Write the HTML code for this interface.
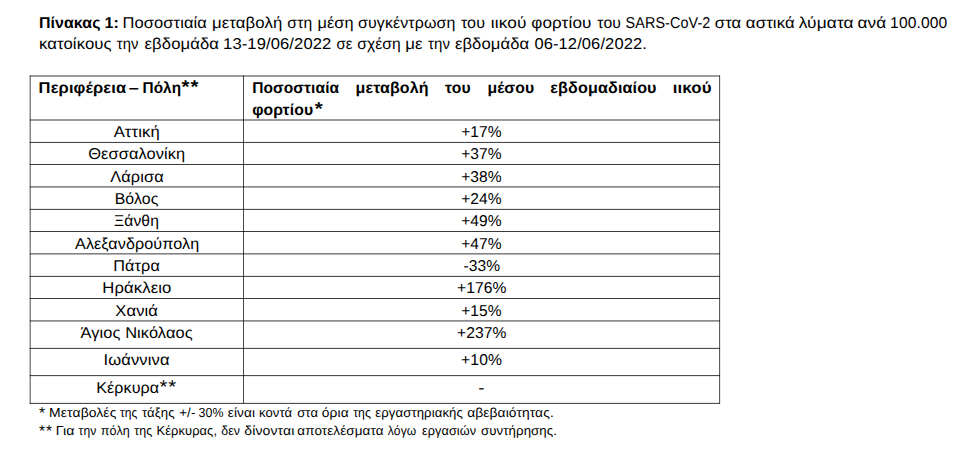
<!DOCTYPE html>
<html lang="el"><head><meta charset="utf-8"><title>Πίνακας 1</title>
<style>
html,body{margin:0;padding:0;background:#fff}
body{width:960px;height:451px;position:relative;overflow:hidden;font-family:"Liberation Sans",sans-serif;color:#000;text-rendering:geometricPrecision}
p{margin:0}
table{border-collapse:collapse;border-spacing:0;border:0}
th,td{padding:0;border:0;font-weight:normal}
.rules{position:absolute;left:0;top:0}
/* one absolutely placed element per text line; words are inline-blocks whose sub-pixel offset and width fit live in the transform */
.ln{display:block;position:absolute;left:0;white-space:nowrap;font-size:0;line-height:20px;height:20px}
.w{display:inline-block;width:1px;vertical-align:baseline;white-space:nowrap;font-size:15.75px;line-height:20px;font-weight:normal;transform-origin:0 0}
.f .w{font-size:13px}
.w.b{font-weight:bold}
</style></head><body>
<svg class="rules" width="960" height="451" viewBox="0 0 960 451" fill="#000" aria-hidden="true"><rect x="29.76" y="75.61" width="690.33" height="0.78"/><rect x="29.76" y="119.61" width="690.33" height="0.78"/><rect x="29.76" y="141.94" width="690.33" height="0.78"/><rect x="29.76" y="164.21" width="690.33" height="0.78"/><rect x="29.76" y="186.56" width="690.33" height="0.78"/><rect x="29.76" y="208.91" width="690.33" height="0.78"/><rect x="29.76" y="231.21" width="690.33" height="0.78"/><rect x="29.76" y="253.51" width="690.33" height="0.78"/><rect x="29.76" y="275.91" width="690.33" height="0.78"/><rect x="29.76" y="298.21" width="690.33" height="0.78"/><rect x="29.76" y="320.56" width="690.33" height="0.78"/><rect x="29.76" y="347.91" width="690.33" height="0.78"/><rect x="29.76" y="375.31" width="690.33" height="0.78"/><rect x="29.76" y="402.91" width="690.33" height="0.78"/><rect x="29.76" y="75.61" width="0.72" height="328.08"/><rect x="243.0" y="75.61" width="0.72" height="328.08"/><rect x="719.37" y="75.61" width="0.72" height="328.08"/></svg>
<p class="cap">
<span class="ln" style="top:14px"><span class="w b" style="margin-left:38px;letter-spacing:0.1px;transform:translateX(0.88px) scaleX(1.0104)">Πίνακας</span> <span class="w b" style="margin-left:65px;letter-spacing:0.1px;transform:translateX(0.55px) scaleX(1.0219)">1:</span> <span class="w" style="margin-left:17px;letter-spacing:0.1px;transform:translateX(0.5px) scaleX(1.046)">Ποσοστιαία</span> <span class="w" style="margin-left:88px;letter-spacing:0.1px;transform:translateX(0.97px) scaleX(1.0634)">μεταβολή</span> <span class="w" style="margin-left:75px;letter-spacing:0.1px;transform:translateX(0.37px) scaleX(0.9942)">στη</span> <span class="w" style="margin-left:29px;letter-spacing:0.1px;transform:translateX(0.48px) scaleX(1.0353)">μέση</span> <span class="w" style="margin-left:40px;letter-spacing:0.1px;transform:translateX(0.08px) scaleX(1.0137)">συγκέντρωση</span> <span class="w" style="margin-left:101px;letter-spacing:0.1px;transform:translateX(0.88px) scaleX(1.0228)">του</span> <span class="w" style="margin-left:29px;letter-spacing:0.1px;transform:translateX(0.73px) scaleX(1.0971)">ιικού</span> <span class="w" style="margin-left:40px;letter-spacing:0.1px;transform:translateX(0.23px) scaleX(1.0849)">φορτίου</span> <span class="w" style="margin-left:65px;letter-spacing:0.1px;transform:translateX(0.33px) scaleX(0.9983)">του</span> <span class="w" style="margin-left:27px;letter-spacing:0.1px;transform:translateX(0.62px) scaleX(0.9118)">SARS-CoV-2</span> <span class="w" style="margin-left:88px;letter-spacing:0.1px;transform:translateX(0.81px) scaleX(1.0519)">στα</span> <span class="w" style="margin-left:30px;letter-spacing:0.1px;transform:translateX(0.87px) scaleX(1.0648)">αστικά</span> <span class="w" style="margin-left:52px;letter-spacing:0.1px;transform:translateX(0.73px) scaleX(1.0998)">λύματα</span> <span class="w" style="margin-left:58px;letter-spacing:0.1px;transform:translateX(0.53px) scaleX(1.0907)">ανά</span> <span class="w" style="margin-left:32px;letter-spacing:0.1px;transform:translateX(0.12px) scaleX(0.9923)">100.000</span></span>
<span class="ln" style="top:35px"><span class="w" style="margin-left:38px;letter-spacing:0.1px;transform:translateX(0.88px) scaleX(1.0628)">κατοίκους</span> <span class="w" style="margin-left:77px;letter-spacing:0.1px;transform:translateX(0.77px) scaleX(0.94)">την</span> <span class="w" style="margin-left:27px;letter-spacing:0.1px;transform:translateX(0.53px) scaleX(1.0586)">εβδομάδα</span> <span class="w" style="margin-left:78px;letter-spacing:0.1px;transform:translateX(0.05px) scaleX(1.0528)">13-19/06/2022</span> <span class="w" style="margin-left:112px;letter-spacing:0.1px;transform:translateX(0.4px) scaleX(0.9403)">σε</span> <span class="w" style="margin-left:20px;letter-spacing:0.1px;transform:translateX(0.13px) scaleX(0.9928)">σχέση</span> <span class="w" style="margin-left:47px;letter-spacing:0.1px;transform:translateX(0.18px) scaleX(1.069)">με</span> <span class="w" style="margin-left:21px;letter-spacing:0.1px;transform:translateX(0.99px) scaleX(0.9518)">την</span> <span class="w" style="margin-left:26px;letter-spacing:0.1px;transform:translateX(0.9px) scaleX(1.0566)">εβδομάδα</span> <span class="w" style="margin-left:79px;letter-spacing:0.1px;transform:translateX(0.4px) scaleX(1.048)">06-12/06/2022.</span></span>
</p>
<table>
<thead><tr><th><span class="ln" style="top:79px"><span class="w b" style="margin-left:38px;letter-spacing:0.1px;transform:translateX(0.62px) scaleX(1.0472)">Περιφέρεια</span> <span class="w b" style="margin-left:89px;transform:translateX(0.87px) scaleX(1.1397)">–</span> <span class="w b" style="margin-left:13px;letter-spacing:0.1px;transform:translateX(0.47px) scaleX(0.9723)">Πόλη</span><span class="w b" style="margin-left:38px;font-size:18.7px;line-height:0;letter-spacing:1.029px;transform:translateX(0.55px) scaleX(1.09)">**</span></span></th><th>
<span class="ln" style="top:79px"><span class="w b" style="margin-left:252px;letter-spacing:0.1px;transform:translateX(0.16px) scaleX(0.9857)">Ποσοστιαία</span> <span class="w b" style="margin-left:102px;letter-spacing:0.1px;transform:translateX(0.59px) scaleX(1.0175)">μεταβολή</span> <span class="w b" style="margin-left:89px;letter-spacing:0.1px;transform:translateX(0.09px) scaleX(0.996)">του</span> <span class="w b" style="margin-left:41px;letter-spacing:0.1px;transform:translateX(0.4px) scaleX(1.0015)">μέσου</span> <span class="w b" style="margin-left:62px;letter-spacing:0.1px;transform:translateX(0.35px) scaleX(1.0263)">εβδομαδιαίου</span> <span class="w b" style="margin-left:121px;letter-spacing:0.1px;transform:translateX(0.75px) scaleX(1.0725)">ιικού</span></span>
<span class="ln" style="top:101px"><span class="w b" style="margin-left:252px;letter-spacing:0.1px;transform:translateX(0.15px) scaleX(0.9988)">φορτίου</span><span class="w b" style="margin-left:61px;font-size:18.7px;line-height:0;transform:translateX(0.85px) scaleX(1.09)">*</span></span>
</th></tr></thead>
<tbody>
<tr><td><span class="ln" style="top:123px"><span class="w" style="margin-left:113px;letter-spacing:0.1px;transform:translateX(0.63px) scaleX(1.0555)">Αττική</span></span></td><td><span class="ln" style="top:123px"><span class="w" style="margin-left:461px;letter-spacing:0.1px;transform:translateX(0.18px) scaleX(0.9857)">+17%</span></span></td></tr>
<tr><td><span class="ln" style="top:145px"><span class="w" style="margin-left:88px;letter-spacing:0.1px;transform:translateX(0.27px) scaleX(1.0401)">Θεσσαλονίκη</span></span></td><td><span class="ln" style="top:145px"><span class="w" style="margin-left:461px;letter-spacing:0.1px;transform:translateX(0.18px) scaleX(0.9857)">+37%</span></span></td></tr>
<tr><td><span class="ln" style="top:168px"><span class="w" style="margin-left:110px;letter-spacing:0.1px;transform:translateX(0.31px) scaleX(1.0367)">Λάρισα</span></span></td><td><span class="ln" style="top:168px"><span class="w" style="margin-left:461px;letter-spacing:0.1px;transform:translateX(0.18px) scaleX(0.9857)">+38%</span></span></td></tr>
<tr><td><span class="ln" style="top:190px"><span class="w" style="margin-left:114px;letter-spacing:0.1px;transform:translateX(0.68px) scaleX(1.0057)">Βόλος</span></span></td><td><span class="ln" style="top:190px"><span class="w" style="margin-left:461px;letter-spacing:0.1px;transform:translateX(0.18px) scaleX(0.9857)">+24%</span></span></td></tr>
<tr><td><span class="ln" style="top:212px"><span class="w" style="margin-left:114px;letter-spacing:0.1px;transform:translateX(0.03px) scaleX(0.9937)">Ξάνθη</span></span></td><td><span class="ln" style="top:212px"><span class="w" style="margin-left:461px;letter-spacing:0.1px;transform:translateX(0.18px) scaleX(0.9857)">+49%</span></span></td></tr>
<tr><td><span class="ln" style="top:235px"><span class="w" style="margin-left:75px;letter-spacing:0.1px;transform:translateX(0.03px) scaleX(1.025)">Αλεξανδρούπολη</span></span></td><td><span class="ln" style="top:235px"><span class="w" style="margin-left:461px;letter-spacing:0.1px;transform:translateX(0.18px) scaleX(0.9857)">+47%</span></span></td></tr>
<tr><td><span class="ln" style="top:257px"><span class="w" style="margin-left:113px;letter-spacing:0.1px;transform:translateX(0.27px) scaleX(1.0295)">Πάτρα</span></span></td><td><span class="ln" style="top:257px"><span class="w" style="margin-left:463px;letter-spacing:0.1px;transform:translateX(0.49px) scaleX(0.9871)">-33%</span></span></td></tr>
<tr><td><span class="ln" style="top:279px"><span class="w" style="margin-left:102px;letter-spacing:0.1px;transform:translateX(0.35px) scaleX(1.0576)">Ηράκλειο</span></span></td><td><span class="ln" style="top:279px"><span class="w" style="margin-left:456px;letter-spacing:0.1px;transform:translateX(0.94px) scaleX(0.9913)">+176%</span></span></td></tr>
<tr><td><span class="ln" style="top:302px"><span class="w" style="margin-left:115px;letter-spacing:0.1px;transform:translateX(0.35px) scaleX(1.0496)">Χανιά</span></span></td><td><span class="ln" style="top:302px"><span class="w" style="margin-left:461px;letter-spacing:0.1px;transform:translateX(0.18px) scaleX(0.9857)">+15%</span></span></td></tr>
<tr><td><span class="ln" style="top:324px"><span class="w" style="margin-left:80px;letter-spacing:0.1px;transform:translateX(0.52px) scaleX(1.04)">Άγιος Νικόλαος</span></span></td><td><span class="ln" style="top:324px"><span class="w" style="margin-left:457px;letter-spacing:0.1px;transform:translateX(0.03px) scaleX(0.9911)">+237%</span></span></td></tr>
<tr><td><span class="ln" style="top:351px"><span class="w" style="margin-left:103px;letter-spacing:0.1px;transform:translateX(0.52px) scaleX(1.0518)">Ιωάννινα</span></span></td><td><span class="ln" style="top:351px"><span class="w" style="margin-left:461px;letter-spacing:0.1px;transform:translateX(0.07px) scaleX(0.9946)">+10%</span></span></td></tr>
<tr><td><span class="ln" style="top:379px"><span class="w" style="margin-left:96px;letter-spacing:0.1px;transform:translateX(0.28px) scaleX(1.0191)">Κέρκυρα</span><span class="w" style="margin-left:62px;font-size:18.5px;line-height:0;letter-spacing:0.741px;transform:translateX(0.62px) scaleX(1.1)">**</span></span></td><td><span class="ln" style="top:379px"><span class="w" style="margin-left:478px;transform:translateX(0.23px) scaleX(1.1999)">-</span></span></td></tr>
</tbody>
</table>
<p class="fn"><span class="ln f" style="top:403px"><span class="w" style="margin-left:38px;font-size:15.5px;line-height:0;transform:translate(0.98px,1px) scaleX(1)">*</span> <span class="w" style="margin-left:10px;letter-spacing:0.1px;transform:translateX(0.11px) scaleX(1.0687)">Μεταβολές</span> <span class="w" style="margin-left:69px;letter-spacing:0.1px;transform:translateX(0.94px) scaleX(0.9207)">της</span> <span class="w" style="margin-left:21px;letter-spacing:0.1px;transform:translateX(0.99px) scaleX(1.0095)">τάξης</span> <span class="w" style="margin-left:37px;letter-spacing:0.1px;transform:translateX(0.25px) scaleX(1.0198)">+/-</span> <span class="w" style="margin-left:18px;letter-spacing:0.1px;transform:translateX(0.54px) scaleX(0.9488)">30%</span> <span class="w" style="margin-left:28px;letter-spacing:0.1px;transform:translateX(0.79px) scaleX(1.0467)">είναι</span> <span class="w" style="margin-left:30px;letter-spacing:0.1px;transform:translateX(0.99px) scaleX(1.0067)">κοντά</span> <span class="w" style="margin-left:38px;letter-spacing:0.1px;transform:translateX(0.18px) scaleX(1.0049)">στα</span> <span class="w" style="margin-left:23px;letter-spacing:0.1px;transform:translateX(0.86px) scaleX(1.0579)">όρια</span> <span class="w" style="margin-left:31px;letter-spacing:0.1px;transform:translateX(0.16px) scaleX(0.9429)">της</span> <span class="w" style="margin-left:21px;letter-spacing:0.1px;transform:translateX(0.27px) scaleX(1.0113)">εργαστηριακής</span> <span class="w" style="margin-left:91px;letter-spacing:0.1px;transform:translateX(0.13px) scaleX(1.0614)">αβεβαιότητας.</span></span></p>
<p class="fn"><span class="ln f" style="top:421px"><span class="w" style="margin-left:38px;font-size:15.5px;line-height:0;letter-spacing:1.058px;transform:translate(0.98px,1px) scaleX(1)">**</span> <span class="w" style="margin-left:16px;letter-spacing:0.1px;transform:translateX(0.73px) scaleX(1.0884)">Για</span> <span class="w" style="margin-left:22px;letter-spacing:0.1px;transform:translateX(0.55px) scaleX(0.9298)">την</span> <span class="w" style="margin-left:21px;letter-spacing:0.1px;transform:translateX(0.81px) scaleX(0.9667)">πόλη</span> <span class="w" style="margin-left:33px;letter-spacing:0.1px;transform:translateX(0.13px) scaleX(0.9554)">της</span> <span class="w" style="margin-left:21px;letter-spacing:0.1px;transform:translateX(0.5px) scaleX(0.9909)">Κέρκυρας,</span> <span class="w" style="margin-left:64px;letter-spacing:0.1px;transform:translateX(0.29px) scaleX(0.9475)">δεν</span> <span class="w" style="margin-left:22px;letter-spacing:0.1px;transform:translateX(0.33px) scaleX(1.0756)">δίνονται</span> <span class="w" style="margin-left:52px;letter-spacing:0.1px;transform:translateX(0.34px) scaleX(1.0361)">αποτελέσματα</span> <span class="w" style="margin-left:89px;letter-spacing:0.1px;transform:translateX(0.87px) scaleX(0.9302)">λόγω</span> <span class="w" style="margin-left:33px;letter-spacing:0.1px;transform:translateX(0.96px) scaleX(0.9757)">εργασιών</span> <span class="w" style="margin-left:59px;letter-spacing:0.1px;transform:translateX(0.01px) scaleX(1.0153)">συντήρησης.</span></span></p>
</body></html>
